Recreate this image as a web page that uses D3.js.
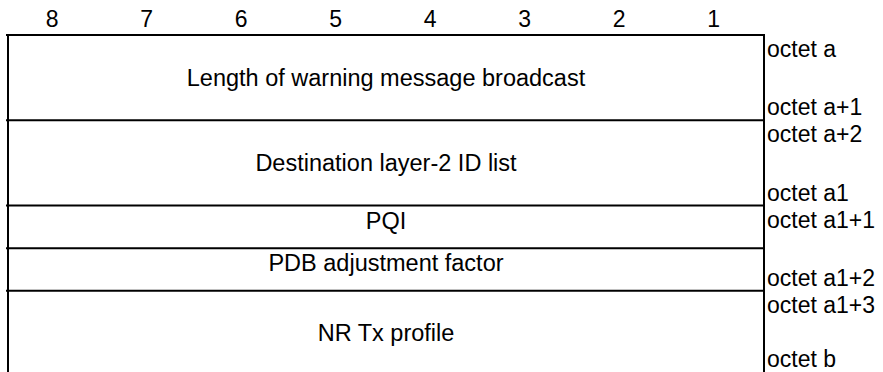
<!DOCTYPE html>
<html>
<head>
<meta charset="utf-8">
<script src="https://cdn.jsdelivr.net/npm/d3@7"></script>
<style>
  html, body { margin: 0; padding: 0; background: #fff; }
  svg { display: block; }
  text { font-family: "Liberation Sans", Arial, sans-serif; fill: #000; }
</style>
</head>
<body>
<svg id="chart" width="883" height="372"></svg>
<script>
// ---- data ----
const bits = ["8", "7", "6", "5", "4", "3", "2", "1"];
const fields = [
  "Length of warning message broadcast",
  "Destination layer-2 ID list",
  "PQI",
  "PDB adjustment factor",
  "NR Tx profile"
];
const fieldOctets = [2, 2, 1, 1, 2];
const octetLabels = ["octet a", "octet a+1", "octet a+2", "octet a1", "octet a1+1", "octet a1+2", "octet a1+3", "octet b"];
const octetField = [0, 0, 1, 1, 2, 3, 4, 4];
const octetEdge = ["top", "bottom", "top", "bottom", "top", "bottom", "top", "bottom"];

// ---- layout ----
const W = 883, H = 372;
const svg = d3.select("#chart");
const boxLeft = 8, boxRight = 764, boxTop = 35, boxBottom = 376;
const fontSize = 23;
const fieldFontSize = 23.5;

const x = d3.scaleBand().domain(bits).range([boxLeft, boxRight]);
const totalOctets = d3.sum(fieldOctets);
const y = d3.scaleLinear().domain([0, totalOctets]).range([boxTop, boxBottom]);

const starts = [];
let acc = 0;
fieldOctets.forEach(n => { starts.push(acc); acc += n; });
const rows = fields.map((f, i) => ({
  name: f,
  y0: y(starts[i]),
  y1: y(starts[i] + fieldOctets[i])
}));

// bit numbers
svg.append("g").selectAll("text").data(bits).join("text")
  .attr("x", d => x(d) + x.bandwidth() / 2 - 3)
  .attr("y", 27)
  .attr("text-anchor", "middle")
  .attr("font-size", fontSize)
  .text(d => d);

// horizontal lines (top of each row)
svg.append("g").selectAll("line").data(rows).join("line")
  .attr("x1", boxLeft - 2).attr("x2", boxRight + 1)
  .attr("y1", d => d.y0).attr("y2", d => d.y0)
  .attr("stroke", "#000").attr("stroke-width", 2);

// vertical borders
svg.append("g").selectAll("line").data([boxLeft, boxRight]).join("line")
  .attr("x1", d => d).attr("x2", d => d)
  .attr("y1", boxTop - 1).attr("y2", boxBottom)
  .attr("stroke", "#000").attr("stroke-width", 2);

// field names
svg.append("g").selectAll("text").data(rows).join("text")
  .attr("x", (boxLeft + boxRight) / 2)
  .attr("y", d => (d.y0 + d.y1) / 2 + ((d.y1 - d.y0) > 50 ? 8 : 2))
  .attr("text-anchor", "middle")
  .attr("font-size", fieldFontSize)
  .text(d => d.name);

// octet labels
svg.append("g").selectAll("text").data(octetLabels).join("text")
  .attr("x", boxRight + 3)
  .attr("y", (d, i) => {
    const r = rows[octetField[i]];
    return octetEdge[i] === "top" ? r.y0 + 22 : Math.min(r.y1 - 5, H - 5);
  })
  .attr("font-size", fontSize)
  .text(d => d);
</script>
</body>
</html>
